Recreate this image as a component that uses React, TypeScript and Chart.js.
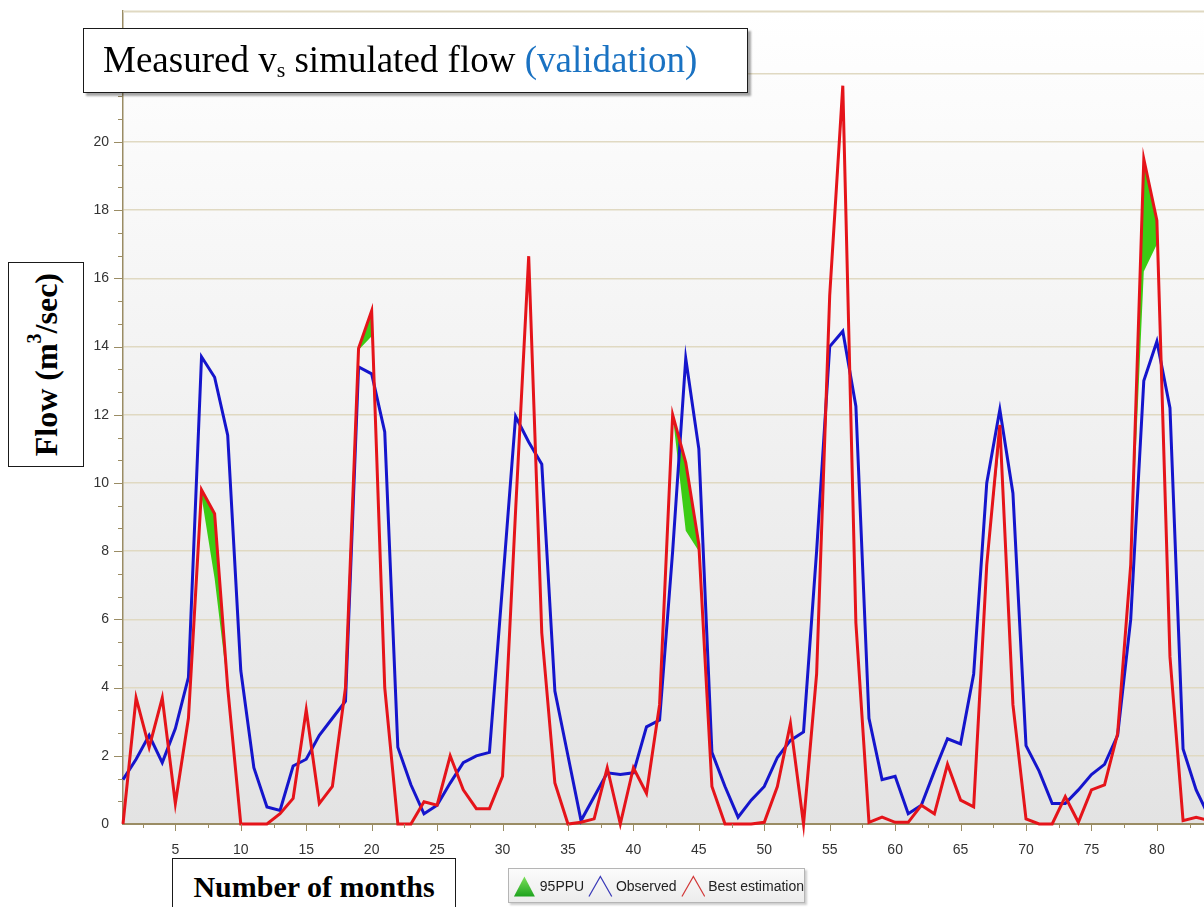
import React, { useEffect, useRef } from "react";
import { Chart, registerables } from "chart.js";

Chart.register(...registerables);

// ---------- data ----------
const months = [
  1, 2, 3, 4, 5, 6, 7, 8, 9, 10, 11, 12, 13, 14, 15, 16, 17, 18, 19, 20, 21,
  22, 23, 24, 25, 26, 27, 28, 29, 30, 31, 32, 33, 34, 35, 36, 37, 38, 39, 40,
  41, 42, 43, 44, 45, 46, 47, 48, 49, 50, 51, 52, 53, 54, 55, 56, 57, 58, 59,
  60, 61, 62, 63, 64, 65, 66, 67, 68, 69, 70, 71, 72, 73, 74, 75, 76, 77, 78,
  79, 80, 81, 82, 83, 84,
];

const observed = [
  1.3, 1.9, 2.6, 1.8, 2.8, 4.3, 13.7, 13.1, 11.4, 4.5, 1.65, 0.5, 0.4, 1.7,
  1.9, 2.6, 3.1, 3.6, 13.4, 13.2, 11.5, 2.25, 1.15, 0.3, 0.55, 1.2, 1.8, 2.0,
  2.1, 7.0, 11.95, 11.2, 10.55, 3.9, 2.0, 0.1, 0.8, 1.5, 1.45, 1.5, 2.85, 3.05,
  8.0, 13.65, 11.0, 2.1, 1.1, 0.2, 0.7, 1.1, 1.95, 2.45, 2.7, 8.0, 14.0, 14.45,
  12.25, 3.1, 1.3, 1.4, 0.3, 0.55, 1.55, 2.5, 2.35, 4.4, 10.0, 12.15, 9.7, 2.3,
  1.55, 0.6, 0.6, 1.0, 1.45, 1.75, 2.6, 6.0, 13.0, 14.15, 12.2, 2.2, 1.0, 0.2,
];

const bestEstimation = [
  0, 3.7, 2.25, 3.7, 0.6, 3.1, 9.8, 9.1, 4.0, 0, 0, 0, 0.3, 0.75, 3.35, 0.6,
  1.1, 4.0, 13.95, 15.05, 4.0, 0, 0, 0.65, 0.55, 2.0, 1.0, 0.45, 0.45, 1.4, 9.2,
  16.65, 5.6, 1.2, 0, 0.05, 0.15, 1.65, 0, 1.65, 0.9, 3.5, 12.0, 10.6, 8.2, 1.1,
  0, 0, 0, 0.05, 1.1, 2.95, 0, 4.4, 15.5, 21.65, 5.9, 0.05, 0.2, 0.05, 0.05,
  0.55, 0.3, 1.75, 0.7, 0.5, 7.6, 11.7, 3.5, 0.15, 0, 0, 0.8, 0.05, 1.0, 1.15,
  2.65, 7.6, 19.5, 17.7, 4.9, 0.1, 0.2, 0.1,
];

const ppuUpper = [
  0, 3.7, 2.25, 3.7, 0.6, 3.1, 9.8, 9.1, 4.0, 0, 0, 0, 0.3, 0.75, 3.35, 0.6,
  1.1, 4.0, 13.95, 15.05, 4.0, 0, 0, 0.65, 0.55, 2.0, 1.0, 0.45, 0.45, 1.4, 9.2,
  16.65, 5.6, 1.2, 0, 0.05, 0.15, 1.65, 0, 1.65, 0.9, 3.5, 12.0, 10.6, 8.2, 1.1,
  0, 0, 0, 0.05, 1.1, 2.95, 0, 4.4, 15.5, 21.65, 5.9, 0.05, 0.2, 0.05, 0.05,
  0.55, 0.3, 1.75, 0.7, 0.5, 7.6, 11.7, 3.5, 0.15, 0, 0, 0.8, 0.05, 1.0, 1.15,
  2.65, 7.6, 19.5, 17.7, 4.9, 0.1, 0.2, 0.1,
];

const ppuLower = [
  0, 3.7, 2.25, 3.7, 0.6, 3.1, 9.6, 7.2, 4.0, 0, 0, 0, 0.3, 0.75, 3.35, 0.6,
  1.1, 4.0, 13.9, 14.3, 4.0, 0, 0, 0.65, 0.55, 2.0, 1.0, 0.45, 0.45, 1.4, 9.2,
  16.65, 5.6, 1.2, 0, 0.05, 0.15, 1.65, 0, 1.65, 0.9, 3.5, 12.0, 8.6, 8.0, 1.1,
  0, 0, 0, 0.05, 1.1, 2.95, 0, 4.4, 15.3, 21.2, 5.9, 0.05, 0.2, 0.05, 0.05,
  0.55, 0.3, 1.75, 0.7, 0.5, 7.6, 11.2, 3.5, 0.15, 0, 0, 0.8, 0.05, 1.0, 1.15,
  2.65, 7.6, 16.2, 17.0, 4.9, 0.1, 0.2, 0.1,
];

const xTickLabels = [5, 10, 15, 20, 25, 30, 35, 40, 45, 50, 55, 60, 65, 70, 75, 80];
const yTickLabels = [0, 2, 4, 6, 8, 10, 12, 14, 16, 18, 20, 22];

const X_MIN = 1;
const X_MAX = 83.6;
const Y_MIN = 0;
const Y_MAX = 23.84;
const X_MINOR_STEP = 2.5;
const Y_MINOR_STEP = 2 / 3;

const AXIS_COLOR = "#9a8c64";
const GRID_COLOR = "#e0d9c2";
const TICK_FONT = "'Liberation Sans', Arial, sans-serif";

const toPoints = (vals: number[]) => months.map((m, i) => ({ x: m, y: vals[i] }));

const backgroundPlugin = {
  id: "bgGradient",
  beforeDraw(chart: any) {
    const { ctx, chartArea, width, height } = chart;
    ctx.save();
    ctx.fillStyle = "#ffffff";
    ctx.fillRect(0, 0, width, height);
    const g = ctx.createLinearGradient(0, chartArea.top, 0, chartArea.bottom);
    g.addColorStop(0, "#ffffff");
    g.addColorStop(1, "#e3e3e3");
    ctx.fillStyle = g;
    ctx.fillRect(chartArea.left, chartArea.top, chartArea.right - chartArea.left, chartArea.bottom - chartArea.top);
    ctx.restore();
  },
};

const tickMarksPlugin = {
  id: "tickMarks",
  afterDraw(chart: any) {
    const { ctx, chartArea } = chart;
    const xs = chart.scales.x;
    const ys = chart.scales.y;
    ctx.save();
    // top frame line
    ctx.strokeStyle = GRID_COLOR;
    ctx.lineWidth = 2;
    ctx.beginPath();
    ctx.moveTo(chartArea.left, chartArea.top + 0.5);
    ctx.lineTo(chartArea.right, chartArea.top + 0.5);
    ctx.stroke();

    ctx.strokeStyle = AXIS_COLOR;
    ctx.lineWidth = 1;
    ctx.beginPath();
    for (let k = 1; k * X_MINOR_STEP <= X_MAX; k++) {
      const v = k * X_MINOR_STEP;
      const px = Math.round(xs.getPixelForValue(v)) + 0.5;
      const major = k % 2 === 0;
      ctx.moveTo(px, chartArea.bottom);
      ctx.lineTo(px, chartArea.bottom + (major ? 7 : 4));
    }
    for (let k = 1; k * Y_MINOR_STEP <= Y_MAX; k++) {
      const v = k * Y_MINOR_STEP;
      const py = Math.round(ys.getPixelForValue(v)) + 0.5;
      const major = k % 3 === 0;
      ctx.moveTo(chartArea.left - (major ? 9 : 5), py);
      ctx.lineTo(chartArea.left, py);
    }
    ctx.stroke();
    ctx.restore();
  },
};

function Triangle({ fill, stroke }: { fill?: string; stroke?: string }) {
  if (fill) {
    return (
      <svg width="24" height="24" viewBox="0 0 24 24" style={{ display: "block" }}>
        <defs>
          <linearGradient id="tg" x1="0" y1="0" x2="0" y2="1">
            <stop offset="0" stopColor="#7be05a" />
            <stop offset="1" stopColor="#1ea31e" />
          </linearGradient>
        </defs>
        <polygon points="1,23 12,2 23,23" fill="url(#tg)" />
      </svg>
    );
  }
  return (
    <svg width="26" height="24" viewBox="0 0 26 24" style={{ display: "block" }}>
      <polyline points="1,23 13,2 25,23" fill="none" stroke={stroke} strokeWidth="1.3" />
    </svg>
  );
}

export default function App() {
  const canvasRef = useRef<HTMLCanvasElement | null>(null);

  useEffect(() => {
    const canvas = canvasRef.current;
    if (!canvas) return;
    const chart = new Chart(canvas, {
      type: "line",
      data: {
        datasets: [
          {
            label: "Best estimation",
            data: toPoints(bestEstimation),
            borderColor: "#e5141a",
            borderWidth: 3,
            pointRadius: 0,
            fill: false,
            tension: 0,
            clip: false as any,
          },
          {
            label: "Observed",
            data: toPoints(observed),
            borderColor: "#1515cc",
            borderWidth: 3,
            pointRadius: 0,
            fill: false,
            tension: 0,
            clip: false as any,
          },
          {
            label: "95PPU",
            data: toPoints(ppuUpper),
            borderColor: "rgba(0,0,0,0)",
            borderWidth: 0,
            backgroundColor: "#3ccc14",
            pointRadius: 0,
            fill: "+1",
            tension: 0,
          },
          {
            label: "95PPU lower",
            data: toPoints(ppuLower),
            borderColor: "rgba(0,0,0,0)",
            borderWidth: 0,
            pointRadius: 0,
            fill: false,
            tension: 0,
          },
        ],
      },
      options: {
        animation: false,
        responsive: false,
        devicePixelRatio: 1,
        layout: { padding: { top: 11, left: 0, right: 0, bottom: 0 } },
        plugins: {
          legend: { display: false },
          tooltip: { enabled: false },
          title: { display: false },
        },
        scales: {
          x: {
            type: "linear",
            min: X_MIN,
            max: X_MAX,
            afterBuildTicks: (scale: any) => {
              scale.ticks = xTickLabels.map((v) => ({ value: v }));
            },
            afterFit: (scale: any) => {
              scale.height = 83;
              scale.paddingLeft = 0;
              scale.paddingRight = 0;
            },
            grid: { display: false, drawTicks: false },
            border: { display: true, color: AXIS_COLOR, width: 2 },
            ticks: {
              padding: 18,
              color: "#333333",
              font: { family: TICK_FONT, size: 14 },
              maxRotation: 0,
              autoSkip: false,
              callback: (v: any) => String(v),
            },
          },
          y: {
            type: "linear",
            min: Y_MIN,
            max: Y_MAX,
            afterBuildTicks: (scale: any) => {
              scale.ticks = yTickLabels.map((v) => ({ value: v }));
            },
            afterFit: (scale: any) => {
              scale.width = 123;
              scale.paddingTop = 0;
              scale.paddingBottom = 0;
            },
            grid: { display: true, drawTicks: false, color: GRID_COLOR, lineWidth: 1.5 },
            border: { display: true, color: AXIS_COLOR, width: 1.5 },
            ticks: {
              padding: 14,
              color: "#333333",
              font: { family: TICK_FONT, size: 14 },
              autoSkip: false,
              callback: (v: any) => String(v),
            },
          },
        },
      },
      plugins: [backgroundPlugin, tickMarksPlugin],
    });
    return () => chart.destroy();
  }, []);

  const boxBorder = "1.5px solid #1a1a1a";
  const serif = "'Liberation Serif', 'Times New Roman', serif";
  const legendFont = "'Liberation Sans', Arial, sans-serif";

  return (
    <div
      style={{
        position: "fixed",
        left: 0,
        top: 0,
        width: 1204,
        height: 907,
        overflow: "hidden",
        background: "#ffffff",
      }}
    >
      <canvas
        ref={canvasRef}
        width={1204}
        height={907}
        style={{ position: "absolute", left: 0, top: 0, width: 1204, height: 907 }}
      />

      {/* Title box */}
      <div
        style={{
          position: "absolute",
          left: 83,
          top: 28,
          width: 665,
          height: 65,
          boxSizing: "border-box",
          border: boxBorder,
          background: "#ffffff",
          boxShadow: "3px 3px 2px rgba(0,0,0,0.35)",
        }}
      >
        <div
          style={{
            position: "absolute",
            left: 19,
            top: 12,
            fontFamily: serif,
            fontSize: 37,
            lineHeight: "37px",
            color: "#000",
            whiteSpace: "nowrap",
          }}
        >
          Measured v<sub style={{ fontSize: 22, verticalAlign: "-5px", lineHeight: 0 }}>s</sub> simulated flow{" "}
          <span style={{ color: "#1a72c2" }}>(validation)</span>
        </div>
      </div>

      {/* Y axis title box */}
      <div
        style={{
          position: "absolute",
          left: 8,
          top: 262,
          width: 76,
          height: 205,
          boxSizing: "border-box",
          border: boxBorder,
          background: "#ffffff",
          display: "flex",
          alignItems: "center",
          justifyContent: "center",
        }}
      >
        <div
          style={{
            writingMode: "vertical-rl",
            transform: "rotate(180deg)",
            fontFamily: serif,
            fontWeight: "bold",
            fontSize: 32,
            lineHeight: "32px",
            whiteSpace: "nowrap",
            color: "#000",
          }}
        >
          Flow (m<sup style={{ fontSize: 20, lineHeight: 0 }}>3</sup>/sec)
        </div>
      </div>

      {/* X axis title box */}
      <div
        style={{
          position: "absolute",
          left: 172,
          top: 858,
          width: 284,
          height: 70,
          boxSizing: "border-box",
          border: boxBorder,
          background: "#ffffff",
        }}
      >
        <div
          style={{
            position: "absolute",
            left: 0,
            right: 0,
            top: 13,
            textAlign: "center",
            fontFamily: serif,
            fontWeight: "bold",
            fontSize: 30,
            lineHeight: "30px",
            whiteSpace: "nowrap",
            color: "#000",
          }}
        >
          Number of months
        </div>
      </div>

      {/* Legend */}
      <div
        style={{
          position: "absolute",
          left: 508,
          top: 868,
          width: 297,
          height: 35,
          boxSizing: "border-box",
          border: "1px solid #b5b5b5",
          background: "linear-gradient(#fbfbfb, #ececec)",
          boxShadow: "2px 2px 2px rgba(0,0,0,0.2)",
          display: "flex",
          alignItems: "center",
          paddingLeft: 4,
          fontFamily: legendFont,
          fontSize: 14,
          color: "#222",
          whiteSpace: "nowrap",
        }}
      >
        <Triangle fill="green" />
        <span style={{ marginLeft: 4, marginRight: 4 }}>95PPU</span>
        <Triangle stroke="#3a3ab8" />
        <span style={{ marginLeft: 3, marginRight: 4 }}>Observed</span>
        <Triangle stroke="#d23a3a" />
        <span style={{ marginLeft: 3 }}>Best estimation</span>
      </div>
    </div>
  );
}
